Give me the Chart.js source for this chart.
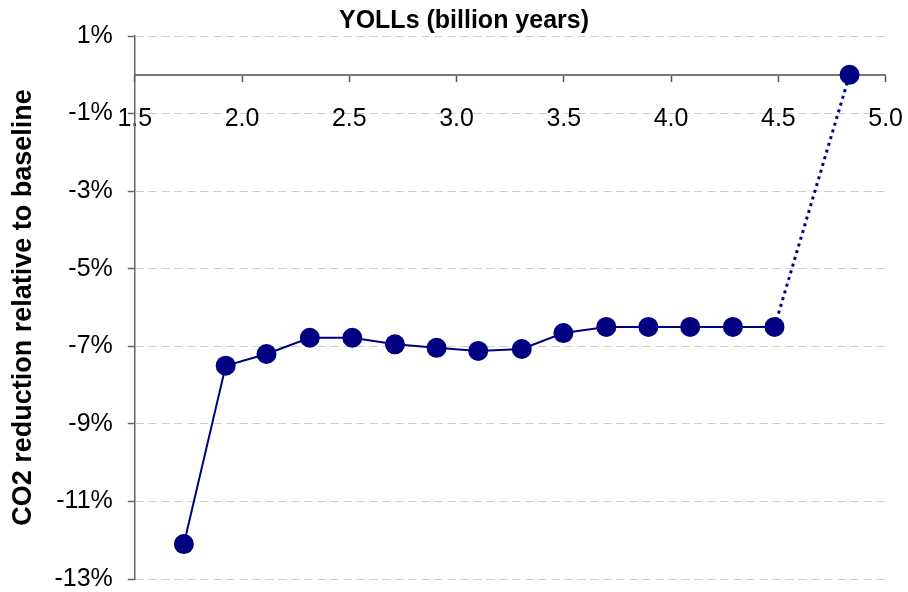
<!DOCTYPE html>
<html>
<head>
<meta charset="utf-8">
<script src="https://cdn.jsdelivr.net/npm/chart.js@4/dist/chart.umd.min.js"></script>
<style>
  html, body { margin: 0; padding: 0; background: #fff; overflow: hidden; }
  #wrap { width: 926px; height: 609px; }
</style>
</head>
<body>
<div id="wrap"><canvas id="myChart"></canvas></div>
<script>
// YOLLs (billion years) and CO2 change (%)
const yollValues = [1.729, 1.924, 2.114, 2.316, 2.514, 2.713, 2.907, 3.101, 3.304, 3.498, 3.698, 3.894, 4.089, 4.288, 4.482, 4.832];
const co2Values = [-12.1, -7.5, -7.2, -6.78, -6.78, -6.95, -7.04, -7.12, -7.07, -6.66, -6.5, -6.5, -6.5, -6.5, -6.5, 0];
const xTicks = [1.5, 2.0, 2.5, 3.0, 3.5, 4.0, 4.5, 5.0];
const yTicks = [-13, -11, -9, -7, -5, -3, -1, 1];

const points = yollValues.map((x, i) => ({ x: x, y: co2Values[i] }));
const lastIdx = points.length - 1;

const ctx = document.getElementById('myChart');

var chart = new Chart(ctx, {
    type: 'line',
    data: {
        datasets: [{
            label: 'CO2 reduction',
            data: points,
            borderColor: '#000080',
            backgroundColor: '#000080',
            borderWidth: 2,
            pointRadius: 10,
            pointHoverRadius: 10,
            pointBackgroundColor: '#000080',
            pointBorderWidth: 0,
            tension: 0,
            segment: {
                borderDash: c => c.p1DataIndex === lastIdx ? [3, 4] : undefined,
                borderWidth: c => c.p1DataIndex === lastIdx ? 3 : undefined
            }
        }]
    },
    options: {
        responsive: true,
        maintainAspectRatio: false,
        animation: false,
        layout: { padding: { left: 7, right: 5, top: -2, bottom: 0 } },
        plugins: {
            legend: { display: false },
            tooltip: { enabled: false },
            title: {
                display: true,
                text: 'YOLLs (billion years)',
                color: '#000',
                font: { family: 'Arial, "Liberation Sans", sans-serif', size: 25, weight: 'bold' },
                padding: { top: 8, bottom: 0 }
            }
        },
        scales: {
            x: {
                type: 'linear',
                position: { y: 0 },
                min: 1.5,
                max: 5.0,
                afterBuildTicks: axis => { axis.ticks = xTicks.map(v => ({ value: v })); },
                ticks: {
                    color: '#000',
                    padding: 23,
                    maxRotation: 0,
                    font: { family: 'Arial, "Liberation Sans", sans-serif', size: 25 },
                    callback: v => Number(v).toFixed(1)
                },
                grid: {
                    drawOnChartArea: false,
                    drawTicks: true,
                    tickLength: 6,
                    tickColor: '#555',
                    tickWidth: 1.5
                },
                border: { display: true, color: '#777', width: 2 }
            },
            y: {
                type: 'linear',
                min: -13,
                max: 1,
                afterBuildTicks: axis => { axis.ticks = yTicks.map(v => ({ value: v })); },
                ticks: {
                    color: '#000',
                    padding: 15,
                    font: { family: 'Arial, "Liberation Sans", sans-serif', size: 25 },
                    callback: v => v + '%'
                },
                grid: {
                    color: '#cccccc',
                    lineWidth: 1,
                    drawTicks: true,
                    tickLength: 7,
                    tickColor: '#666',
                    tickWidth: 1.5
                },
                border: { display: true, color: '#666', width: 1.5, dash: [8, 5] },
                title: {
                    display: true,
                    text: 'CO2 reduction relative to baseline',
                    color: '#000',
                    font: { family: 'Arial, "Liberation Sans", sans-serif', size: 27, weight: 'bold' },
                    padding: { top: 0, bottom: 0 }
                }
            }
        }
    }
});
</script>
</body>
</html>
